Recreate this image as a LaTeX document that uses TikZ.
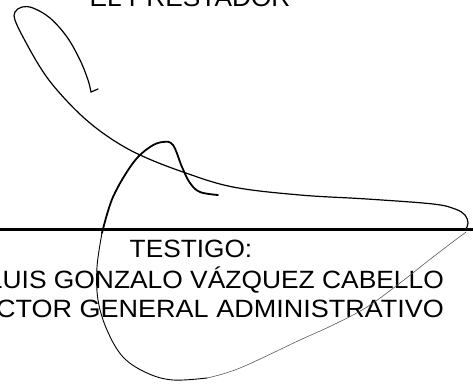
\documentclass[tikz,border=0pt]{standalone}
\usepackage{fontspec}
\setmainfont{Liberation Sans}
\newcommand{\stretchtext}[2][1.05]{\scalebox{#1}[1]{#2}}
\begin{document}
\begin{tikzpicture}[x=1pt,y=-1pt]
\tikzstyle{every node}+=[inner sep=0pt]
\tikzstyle{caption}=[font=\fontsize{25}{30}\selectfont]
\tikzstyle{ink}=[black, line width=1.2pt, line cap=round, line join=round]
\tikzstyle{faint}=[black!65, line width=0.6pt, line cap=round]
\useasboundingbox (0,0) rectangle (473,385);
\clip (0,0) rectangle (473,385);
% texts
\node [caption, anchor=base] (prestador) at (190,7) {\stretchtext{EL PRESTADOR}};
\node [caption, anchor=base] (testigo) at (191,257) {\stretchtext{TESTIGO:}};
\node [caption, anchor=base east] (nombre) at (444,288) {\stretchtext[1.055]{LUIS GONZALO VÁZQUEZ CABELLO}};
\node [caption, anchor=base east] (cargo) at (444,317) {\stretchtext[1.08]{DIRECTOR GENERAL ADMINISTRATIVO}};
% signature line
\draw [black, line width=3pt] (0,229) -- (473,229);
% first stroke: loop and long tail
\draw [ink] (98,89) -- (91,92);
\draw [ink] plot [smooth, tension=0.6] coordinates {(91,92) (88,80) (80,60) (67,37) (50,18) (33,8) (22,7) (15,12) (15,20) (23,37) (40,67) (57,90) (83,117) (110,138) (140,155) (183,172) (233,187) (300,195) (367,199) (433,204) (455,209) (465,215) (468,223) (466,229)};
% second stroke: lower loop (faint) and arch
\draw [faint] plot [smooth, tension=0.6] coordinates {(466,232) (433,257) (400,283) (367,307) (333,325) (300,340) (240,368) (207,378)};
\draw [ink, line width=0.9pt] plot [smooth, tension=0.6] coordinates {(207,378) (173,380) (147,373) (123,357) (107,330) (98,300) (97,267) (102,233)};
\draw [ink, line width=1.8pt] plot [smooth, tension=0.6] coordinates {(102,233) (113,197) (133,163) (150,147) (163,142) (173,145) (182,167) (190,183) (200,192) (218,195)};
\end{tikzpicture}
\end{document}
